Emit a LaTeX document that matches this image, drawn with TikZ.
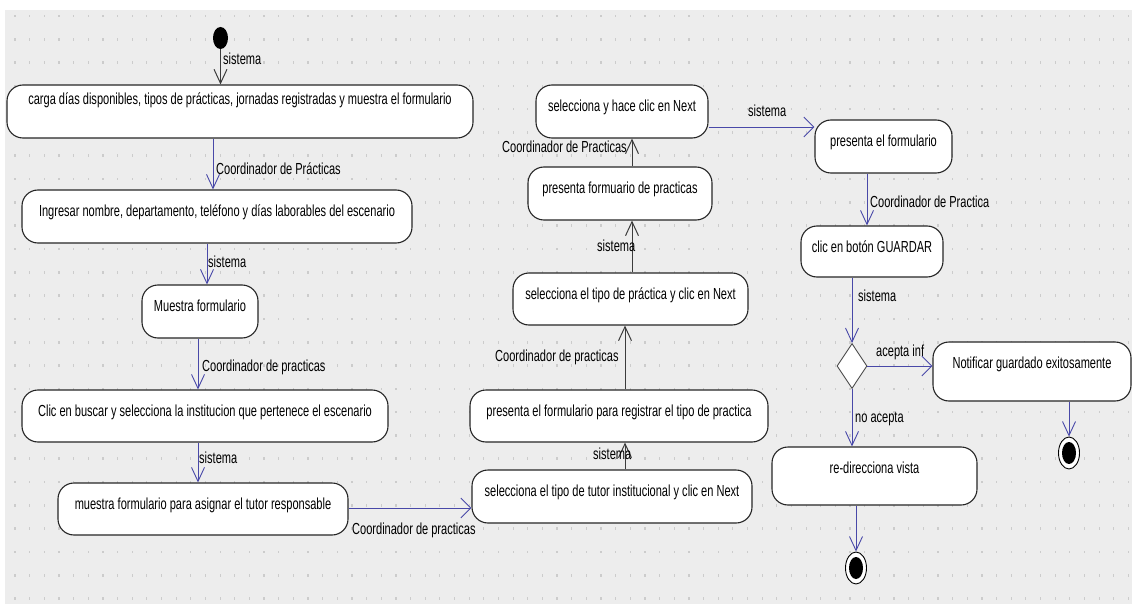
\documentclass[tikz,border=0pt]{standalone}
\usepackage{fontspec}
\setmainfont{Liberation Sans}[FakeStretch=0.69]
\usetikzlibrary{arrows.meta,shapes.geometric}
\definecolor{canvas}{RGB}{237,237,237}
\definecolor{griddot}{RGB}{204,204,204}
\definecolor{flowblue}{RGB}{72,72,168}
\definecolor{flowdark}{RGB}{60,60,60}
\begin{document}
\begin{tikzpicture}[x=1pt,y=-1pt,
  every node/.style={font=\fontsize{16}{19}\selectfont},
  act/.style={draw=black!85, line width=1.1pt, fill=white, rounded corners=16pt,
    inner sep=0pt, text height=26.5pt},
  lbl/.style={anchor=west, inner sep=0pt, text height=11.5pt, text depth=3pt},
  vtip/.style={-{Straight Barb[length=14pt,width=13pt]}},
  htip/.style={-{Straight Barb[length=10pt,width=20pt]}},
  blueflow/.style={draw=flowblue, line width=0.9pt},
  darkflow/.style={draw=flowdark, line width=1pt},
  finalstate/.style={ellipse, draw=black, line width=0.9pt, fill=white,
    minimum width=21pt, minimum height=32pt, inner sep=0pt,
    path picture={\fill[black] (path picture bounding box.center)
      ellipse [x radius=7pt, y radius=11pt];}}
]
% canvas and dotted grid
\useasboundingbox (0,0) rectangle (1132,604);
\fill[white] (0,0) rectangle (1132,604);
\fill[canvas] (5,10) rectangle (1132,604);
\foreach \i in {0,...,76}
  \foreach \j in {0,...,25}
    \fill[griddot] ({15+14.65*\i-0.6},{16+23.3*\j-1.3}) rectangle ++(1.2,2.6);

% activities
\node[fill=black, ellipse, minimum width=15pt, minimum height=22pt, inner sep=0pt] (init) at (220.5,38) {};
\node[act, minimum width=466pt, text height=19.5pt, text depth=33.5pt] (A) at (240,111.5)
  {carga días disponibles, tipos de prácticas, jornadas registradas y muestra el formulario};
\node[act, minimum width=390pt, text depth=26.5pt] (B) at (217,216.5)
  {Ingresar nombre, departamento, teléfono y días laborables del escenario};
\node[act, minimum width=116pt, text depth=26.5pt] (C) at (200,311.5) {Muestra formulario};
\node[act, minimum width=366pt, text depth=25.5pt] (D) at (205,416)
  {Clic en buscar y selecciona la institucion que pertenece el escenario};
\node[act, minimum width=290pt, text depth=25.5pt] (E) at (203,509)
  {muestra formulario para asignar el tutor responsable};
\node[act, minimum width=280pt, text depth=26.5pt] (F) at (612,496.5)
  {selecciona el tipo de tutor institucional y clic en Next};
\node[act, minimum width=298pt, text depth=25.5pt] (G) at (619,416)
  {presenta el formulario para registrar el tipo de practica};
\node[act, minimum width=235pt, text depth=25.5pt] (H) at (630.5,299)
  {selecciona el tipo de práctica y clic en Next};
\node[act, minimum width=184pt, text depth=26.5pt] (I) at (620,193.5)
  {presenta formuario de practicas};
\node[act, minimum width=172pt, text depth=26.5pt] (J) at (622,111.5)
  {selecciona y hace clic en Next};
\node[act, minimum width=137pt, text depth=26.5pt] (K) at (883.5,146.5) {presenta el formulario};
\node[act, minimum width=142pt, text depth=24.5pt] (L) at (872,251.5) {clic en botón GUARDAR};
\node[diamond, draw=black!70, fill=white, line width=0.9pt, minimum width=30pt,
  minimum height=45pt, inner sep=0pt, shape aspect=0.667] (dec) at (852,366) {};
\node[act, minimum width=198pt, text depth=32.5pt] (N) at (1032,371.5)
  {Notificar guardado exitosamente};
\node[act, minimum width=205pt, text depth=31.5pt] (M) at (874.5,476) {re-direcciona vista};
\node[finalstate] (fin1) at (856,568) {};
\node[finalstate] (fin2) at (1069,453) {};

% transitions
\draw[darkflow, vtip] (init.south) -- (init.south |- A.north);
\draw[blueflow, vtip] ([xshift=-4pt]B.north |- A.south) -- ([xshift=-4pt]B.north);
\draw[blueflow, vtip] ([xshift=7pt]C.north |- B.south) -- ([xshift=7pt]C.north);
\draw[blueflow, vtip] ([xshift=-2pt]C.south) -- ([xshift=-2pt]C.south |- D.north);
\draw[blueflow, vtip] ([xshift=-5pt]E.north |- D.south) -- ([xshift=-5pt]E.north);
\draw[blueflow, htip] ([yshift=1pt]E.east) -- ([yshift=1pt]E.east -| F.west);
\draw[darkflow, vtip] ([xshift=6pt]G.south |- F.north) -- ([xshift=6pt]G.south);
\draw[darkflow, vtip] ([xshift=-5.5pt]H.south |- G.north) -- ([xshift=-5.5pt]H.south);
\draw[darkflow, vtip] ([xshift=1.5pt]H.north) -- ([xshift=1.5pt]H.north |- I.south);
\draw[darkflow, vtip] ([xshift=12pt]I.north) -- ([xshift=12pt]I.north |- J.south);
\draw[blueflow, htip] ([yshift=-15.5pt]J.east) -- ([yshift=-15.5pt]J.east -| K.west);
\draw[blueflow, vtip] ([xshift=-16.5pt]K.south) -- ([xshift=-16.5pt]K.south |- L.north);
\draw[blueflow, vtip] ([xshift=-20pt]L.south) -- (dec.north);
\draw[blueflow, htip] (dec.east) -- (dec.east -| N.west);
\draw[blueflow, vtip] (dec.south) -- (dec.south |- M.north);
\draw[blueflow, vtip] (N.south -| fin2.north) -- (fin2.north);
\draw[blueflow, vtip] (M.south -| fin1.north) -- (fin1.north);

% guard labels
\node[lbl] (t1) at (223,60) {sistema};
\node[lbl] (t2) at (216,170) {Coordinador de Prácticas};
\node[lbl] (t3) at (208,263) {sistema};
\node[lbl] (t4) at (202,367) {Coordinador de practicas};
\node[lbl] (t5) at (199,459) {sistema};
\node[lbl] (t6) at (352,530) {Coordinador de practicas};
\node[lbl] (t7) at (593,455) {sistema};
\node[lbl] (t8) at (495,357) {Coordinador de practicas};
\node[lbl] (t9) at (597,247) {sistema};
\node[lbl] (t10) at (502,148) {Coordinador de Practicas};
\node[lbl] (t11) at (748,112) {sistema};
\node[lbl] (t12) at (870,203) {Coordinador de Practica};
\node[lbl] (t13) at (858,297) {sistema};
\node[lbl] (t14) at (876,352) {acepta inf};
\node[lbl] (t15) at (855,418) {no acepta};
\end{tikzpicture}
\end{document}
